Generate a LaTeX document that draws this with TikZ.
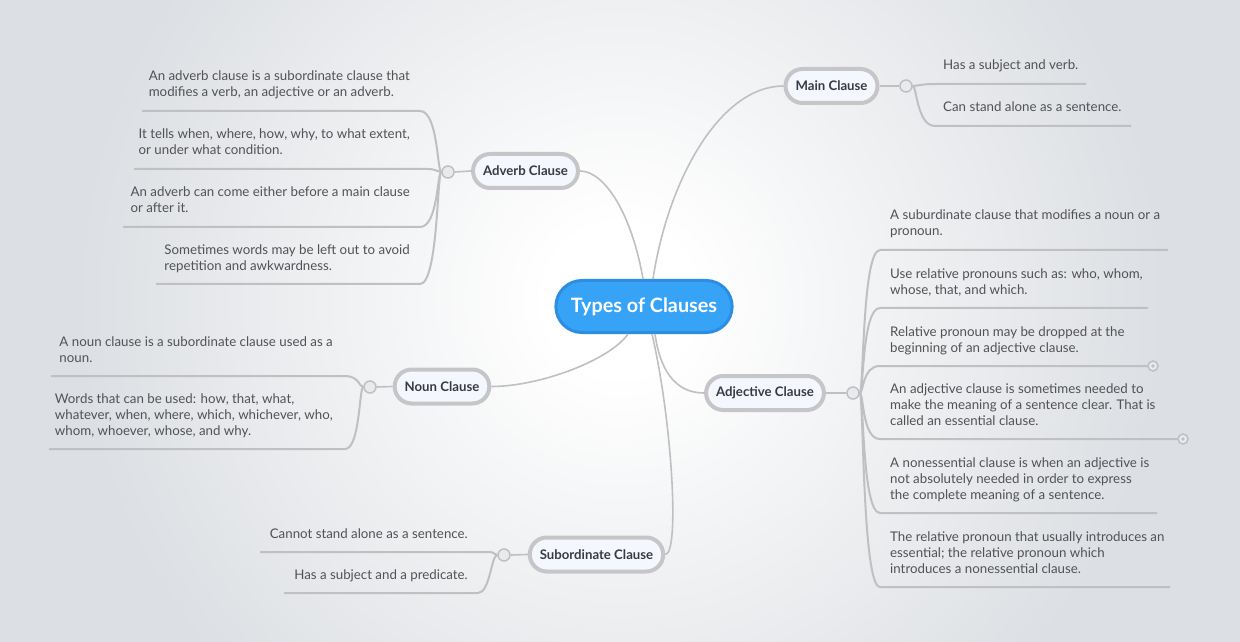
\documentclass[tikz,border=0pt]{standalone}
\usepackage{fontspec}
\setmainfont{Lato}
\usepackage{xcolor}
\usepackage{tikz}

\definecolor{bgGray}{RGB}{220,223,227}
\definecolor{juncFill}{RGB}{232,234,237}
\definecolor{lineGray}{RGB}{192,192,194}
\definecolor{borderGray}{RGB}{198,198,200}
\definecolor{nodeFill}{RGB}{244,247,253}
\definecolor{nodeText}{RGB}{58,58,66}
\definecolor{leafText}{RGB}{82,82,86}
\definecolor{rootBlue}{RGB}{54,163,247}
\definecolor{rootBorder}{RGB}{44,142,226}

\pgfdeclareradialshading{glow}{\pgfpoint{0bp}{0bp}}{color(0bp)=(white); color(3bp)=(white); color(22bp)=(bgGray); color(50bp)=(bgGray)}

\tikzset{
  centrebox/.style={draw=rootBorder, line width=3bp, fill=rootBlue, rounded corners=26bp,
    minimum height=52bp, inner xsep=15bp, text=white,
    font=\bfseries\fontsize{19.8bp}{22bp}\selectfont},
  topic/.style={draw=borderGray, line width=4bp, fill=nodeFill, rounded corners=17bp,
    minimum height=34bp, inner xsep=10bp, text=nodeText,
    font=\bfseries\fontsize{13.2bp}{15bp}\selectfont},
  junc/.style={circle, draw=lineGray, line width=1.5bp, fill=juncFill,
    minimum size=12bp, inner sep=0pt},
  link/.style={draw=lineGray, line width=1.6bp},
  uline/.style={draw=lineGray, line width=2bp},
  leaf/.style={inner sep=0pt, align=left, text=leafText,
    font=\fontsize{13.3bp}{16bp}\selectfont, execute at end node=\strut},
}

\begin{document}
\begin{tikzpicture}[x=1bp,y=-1bp]

% background
\fill[bgGray] (0,0) rectangle (1240,642);
\begin{scope}
\clip (0,0) rectangle (1240,642);
\shade[shading=glow] (620,300) circle (620bp);
\end{scope}
\useasboundingbox (0,0) rectangle (1240,642);

% topics
\node[centrebox] (types) at (644,306.5) {Types of Clauses};
\node[topic] (mainc) at (831.5,86) {Main Clause};
\node[topic] (adverb) at (525.5,171) {Adverb Clause};
\node[topic] (noun) at (442,386.5) {Noun Clause};
\node[topic] (adjective) at (765,393) {Adjective Clause};
\node[topic] (subord) at (596.5,554.5) {Subordinate Clause};

\draw[link] ([xshift=9bp]types.north) .. controls (668,180) and (720,86) .. (mainc.west);
\draw[link] ([xshift=-1bp]types.north) .. controls (632,215) and (605,171) .. (adverb.east);
\draw[link] ([xshift=-16bp]types.south) .. controls (610,360) and (540,386.5) .. (noun.east);
\draw[link] ([xshift=11bp]types.south) .. controls (660,370) and (675,393) .. (adjective.west);
\draw[link] ([xshift=8bp]types.south) .. controls (672,420) and (680,554.5) .. (subord.east);

% junctions
\node[junc] (jmain) at (906,86) {};
\node[junc] (jadverb) at (448,172) {};
\node[junc] (jnoun) at (370,387) {};
\node[junc] (jadj) at (853,393) {};
\node[junc] (jsub) at (504,555) {};

\draw[link] (mainc.east) -- (jmain.west);
\draw[link] (adverb.west) -- (jadverb.east);
\draw[link] (noun.west) -- (jnoun.east);
\draw[link] (adjective.east) -- (jadj.west);
\draw[link] (subord.west) -- (jsub.east);

% main clause
\coordinate (M1) at (935,84);
\coordinate (M2) at (935,126);
\draw[uline] (jmain.east) .. controls +(4,0) and +(-14,0) .. (M1) -- ++(151,0);
\draw[uline] (jmain.east) .. controls +(4,0) and +(-18,0) .. (M2) -- ++(196,0);
\node[leaf, anchor=south west, yshift=9bp] (tM1) at (943,84) {Has a subject and verb.};
\node[leaf, anchor=south west, yshift=9bp] (tM2) at (943,126) {Can stand alone as a sentence.};

% adverb clause
\coordinate (A1) at (420,111);
\coordinate (A2) at (428,169);
\coordinate (A3) at (420,227);
\coordinate (A4) at (420,284);
\draw[uline] (jadverb.west) .. controls +(-4,0) and +(18,0) .. (A1) -- ++(-278,0);
\draw[uline] (jadverb.west) .. controls +(-4,0) and +(8,0) .. (A2) -- ++(-294,0);
\draw[uline] (jadverb.west) .. controls +(-4,0) and +(18,0) .. (A3) -- ++(-297,0);
\draw[uline] (jadverb.west) .. controls +(-4,0) and +(18,0) .. (A4) -- ++(-264,0);
\node[leaf, anchor=south east, yshift=9bp] (tA1) at (410,111) {An adverb clause is a subordinate clause that\\modifies a verb, an adjective or an adverb.};
\node[leaf, anchor=south east, yshift=9bp] (tA2) at (410,169) {It tells when, where, how, why, to what extent,\\or under what condition.};
\node[leaf, anchor=south east, yshift=9bp] (tA3) at (410,227) {An adverb can come either before a main clause\\or after it.};
\node[leaf, anchor=south east, yshift=9bp] (tA4) at (410,284) {Sometimes words may be left out to avoid\\repetition and awkwardness.};

% noun clause
\coordinate (N1) at (345,376);
\coordinate (N2) at (345,449);
\draw[uline] (jnoun.west) .. controls +(-4,0) and +(14,0) .. (N1) -- ++(-294,0);
\draw[uline] (jnoun.west) .. controls +(-4,0) and +(15,0) .. (N2) -- ++(-296,0);
\node[leaf, anchor=south east, yshift=9bp] (tN1) at (333,376) {A noun clause is a subordinate clause used as a\\noun.};
\node[leaf, anchor=south east, yshift=9bp] (tN2) at (333,449) {Words that can be used: how, that, what,\\whatever, when, where, which, whichever, who,\\whom, whoever, whose, and why.};

% adjective clause
\coordinate (D1) at (880,250);
\coordinate (D2) at (880,308);
\coordinate (D3) at (880,366);
\coordinate (D4) at (880,439);
\coordinate (D5) at (880,513);
\coordinate (D6) at (880,587);
\draw[uline] (jadj.east) .. controls +(4,0) and +(-18,0) .. (D1) -- ++(288,0);
\draw[uline] (jadj.east) .. controls +(4,0) and +(-18,0) .. (D2) -- ++(268,0);
\draw[uline] (jadj.east) .. controls +(4,0) and +(-18,0) .. (D3) -- ++(273,0) coordinate (D3e);
\draw[uline] (jadj.east) .. controls +(4,0) and +(-18,0) .. (D4) -- ++(303,0) coordinate (D4e);
\draw[uline] (jadj.east) .. controls +(4,0) and +(-18,0) .. (D5) -- ++(277,0);
\draw[uline] (jadj.east) .. controls +(4,0) and +(-18,0) .. (D6) -- ++(290,0);
\filldraw[draw=lineGray, fill=juncFill, line width=1.5bp] (D3e) circle (5bp);
\fill[lineGray] (D3e) circle (1.8bp);
\filldraw[draw=lineGray, fill=juncFill, line width=1.5bp] (D4e) circle (5bp);
\fill[lineGray] (D4e) circle (1.8bp);
\node[leaf, anchor=south west, yshift=9bp] (tD1) at (890,250) {A suburdinate clause that modifies a noun or a\\pronoun.};
\node[leaf, anchor=south west, yshift=9bp] (tD2) at (890,308) {Use relative pronouns such as: who, whom,\\whose, that, and which.};
\node[leaf, anchor=south west, yshift=9bp] (tD3) at (890,366) {Relative pronoun may be dropped at the\\beginning of an adjective clause.};
\node[leaf, anchor=south west, yshift=9bp] (tD4) at (890,439) {An adjective clause is sometimes needed to\\make the meaning of a sentence clear. That is\\called an essential clause.};
\node[leaf, anchor=south west, yshift=9bp] (tD5) at (890,513) {A nonessential clause is when an adjective is\\not absolutely needed in order to express\\the complete meaning of a sentence.};
\node[leaf, anchor=south west, yshift=9bp] (tD6) at (890,587) {The relative pronoun that usually introduces an\\essential; the relative pronoun which\\introduces a nonessential clause.};

% subordinate clause
\coordinate (S1) at (488,552);
\coordinate (S2) at (478,593);
\draw[uline] (jsub.west) .. controls +(-4,0) and +(8,0) .. (S1) -- ++(-228,0);
\draw[uline] (jsub.west) .. controls +(-6,0) and +(12,0) .. (S2) -- ++(-194,0);
\node[leaf, anchor=south east, yshift=9bp] (tS1) at (468,552) {Cannot stand alone as a sentence.};
\node[leaf, anchor=south east, yshift=9bp] (tS2) at (468,593) {Has a subject and a predicate.};

\end{tikzpicture}
\end{document}
